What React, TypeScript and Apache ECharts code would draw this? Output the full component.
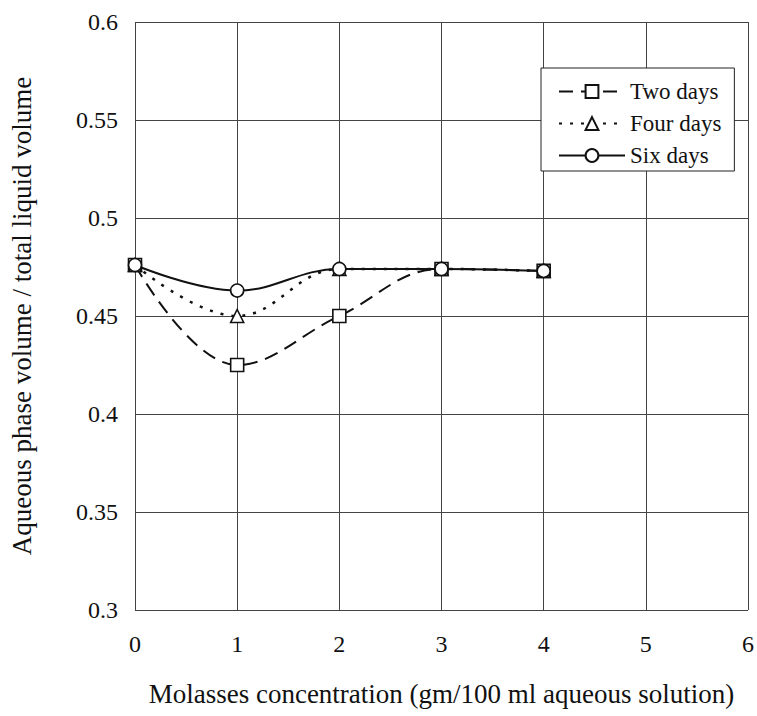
import React, { useEffect, useRef } from "react";
import * as echarts from "echarts";

const xValues = [0, 1, 2, 3, 4];
const twoDays = [0.476, 0.425, 0.45, 0.474, 0.473];
const fourDays = [0.476, 0.45, 0.474, 0.474, 0.473];
const sixDays = [0.476, 0.463, 0.474, 0.474, 0.473];
const seriesNames = ["Two days", "Four days", "Six days"];

const FONT = "Liberation Serif";

export default function App() {
  const ref = useRef<HTMLDivElement>(null);
  useEffect(() => {
    if (!ref.current) return;
    const chart = echarts.init(ref.current, null, { renderer: "svg" });
    const pair = (ys: number[]) => xValues.map((x, i) => [x, ys[i]]);
    const common = {
      type: "line",
      smooth: 0.4,
      symbolSize: 13,
      itemStyle: { color: "#fff", borderColor: "#111", borderWidth: 1.6 },
    };
    chart.setOption({
      animation: false,
      backgroundColor: "#fff",
      grid: { left: 135, right: 9, top: 22, bottom: 106 },
      legend: {
        data: seriesNames,
        orient: "vertical",
        left: 541,
        top: 68,
        padding: [12, 13, 4, 17],
        itemGap: 9,
        itemWidth: 66,
        itemHeight: 16,
        borderColor: "#222",
        borderWidth: 1,
        backgroundColor: "#fff",
        textStyle: { fontFamily: FONT, fontSize: 23, lineHeight: 22, color: "#111" },
      },
      xAxis: {
        type: "value",
        min: 0,
        max: 6,
        interval: 1,
        name: "Molasses concentration (gm/100 ml aqueous solution)",
        nameLocation: "middle",
        nameGap: 70,
        nameTextStyle: { fontFamily: FONT, fontSize: 27, color: "#111" },
        axisLine: { show: false },
        axisTick: { show: false },
        axisLabel: { fontFamily: FONT, fontSize: 24, color: "#111", margin: 22 },
        splitLine: { show: true, lineStyle: { color: "#444", width: 1 } },
      },
      yAxis: {
        type: "value",
        min: 0.3,
        max: 0.6,
        interval: 0.05,
        name: "Aqueous phase volume / total liquid volume",
        nameLocation: "middle",
        nameGap: 100,
        nameTextStyle: { fontFamily: FONT, fontSize: 27, color: "#111" },
        axisLine: { show: false },
        axisTick: { show: false },
        axisLabel: {
          fontFamily: FONT,
          fontSize: 24,
          color: "#111",
          margin: 17,
          formatter: (v: number) => String(Math.round(v * 100) / 100),
        },
        splitLine: { show: true, lineStyle: { color: "#444", width: 1 } },
      },
      series: [
        {
          ...common,
          name: seriesNames[0],
          data: pair(twoDays),
          symbol: "rect",
          lineStyle: { color: "#111", width: 2, type: [14, 8] },
        },
        {
          ...common,
          name: seriesNames[1],
          data: pair(fourDays),
          symbol: "triangle",
          lineStyle: { color: "#111", width: 2.5, type: [3, 8] },
        },
        {
          ...common,
          name: seriesNames[2],
          data: pair(sixDays),
          symbol: "circle",
          lineStyle: { color: "#111", width: 2, type: "solid" },
        },
      ],
    });
    return () => chart.dispose();
  }, []);
  return <div ref={ref} style={{ width: 757, height: 716, position: "absolute", left: 0, top: 0 }} />;
}
